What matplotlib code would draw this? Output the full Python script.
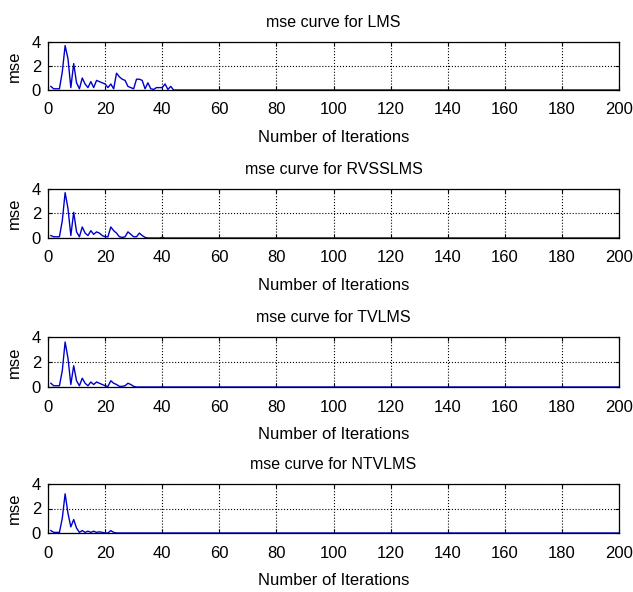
import matplotlib
matplotlib.use("Agg")
import matplotlib.pyplot as plt
import numpy as np

plt.rcParams['font.family'] = ['Liberation Sans', 'DejaVu Sans']

# mse values (iterations 1..45), the rest is ~0
n_iter = 200
lms_head = [0.3, 0.1, 0.1, 0.1, 1.5, 3.7, 2.6, 0.2, 2.2, 0.6,
            0.1, 1.0, 0.5, 0.2, 0.7, 0.2, 0.8, 0.7, 0.6, 0.5,
            0.2, 0.5, 0.1, 1.4, 1.1, 0.9, 0.8, 0.3, 0.2, 0.1,
            0.9, 0.9, 0.8, 0.1, 0.6, 0.1, 0.05, 0.2, 0.2, 0.2,
            0.5, 0.05, 0.3, 0.0, 0.0]
rvss_head = [0.2, 0.1, 0.1, 0.1, 1.4, 3.7, 2.4, 0.2, 2.1, 0.5,
             0.1, 0.9, 0.4, 0.2, 0.6, 0.3, 0.5, 0.4, 0.2, 0.1,
             0.1, 0.9, 0.6, 0.4, 0.1, 0.05, 0.1, 0.5, 0.3, 0.1,
             0.1, 0.4, 0.2, 0.05, 0.0, 0.0, 0.0, 0.0, 0.0, 0.05,
             0.0, 0.0, 0.0, 0.0, 0.0]
tv_head = [0.3, 0.1, 0.1, 0.1, 1.3, 3.6, 2.3, 0.2, 1.7, 0.5,
           0.1, 0.7, 0.3, 0.1, 0.4, 0.2, 0.4, 0.3, 0.2, 0.1,
           0.05, 0.5, 0.3, 0.2, 0.05, 0.05, 0.1, 0.3, 0.2, 0.05,
           0.0, 0.0, 0.0, 0.0, 0.0, 0.0, 0.0, 0.0, 0.0, 0.0,
           0.0, 0.0, 0.0, 0.0, 0.0]
ntv_head = [0.2, 0.05, 0.05, 0.05, 1.2, 3.2, 1.6, 0.5, 1.1, 0.4,
            0.05, 0.2, 0.05, 0.15, 0.05, 0.15, 0.05, 0.1, 0.05, 0.0,
            0.0, 0.2, 0.05, 0.0, 0.0, 0.0, 0.0, 0.0, 0.0, 0.0,
            0.0, 0.0, 0.0, 0.0, 0.0, 0.0, 0.0, 0.0, 0.0, 0.0,
            0.0, 0.0, 0.0, 0.0, 0.0]

def full(head):
    return np.array(head + [0.0] * (n_iter - len(head)))

titles = ["mse curve for LMS", "mse curve for RVSSLMS",
          "mse curve for TVLMS", "mse curve for NTVLMS"]
curves = [full(lms_head), full(rvss_head), full(tv_head), full(ntv_head)]
iterations = np.arange(1, n_iter + 1)

fig = plt.figure(figsize=(6.33, 5.92), dpi=100)
W, H = 633, 592
left, right = 48, 619
tops = [42, 189, 337, 484]
bottoms = [90, 238, 387, 533]
fs = 12

for t, b, title, y in zip(tops, bottoms, titles, curves):
    ax = fig.add_axes([left / W, 1 - b / H, (right - left) / W, (b - t) / H])
    ax.plot(iterations, y, color='#0000cc', linewidth=1.0)
    ax.set_xlim(0, 200)
    ax.set_ylim(0, 4)
    ax.set_xticks(np.arange(0, 201, 20))
    ax.set_yticks([0, 2, 4])
    ax.grid(True, color='black', linestyle=':', linewidth=0.8)
    ax.tick_params(direction='in', top=True, right=True, length=3,
                   labelsize=fs)
    ax.tick_params(axis='x', pad=9)
    ax.tick_params(axis='y', pad=5)
    for s in ax.spines.values():
        s.set_linewidth(0.9)
    ax.set_title(title, fontsize=11.5, pad=11)
    ax.set_xlabel("Number of Iterations", fontsize=fs, labelpad=9)
    ax.set_ylabel("mse", fontsize=fs, labelpad=7)

fig.savefig("out.png", dpi=100)
